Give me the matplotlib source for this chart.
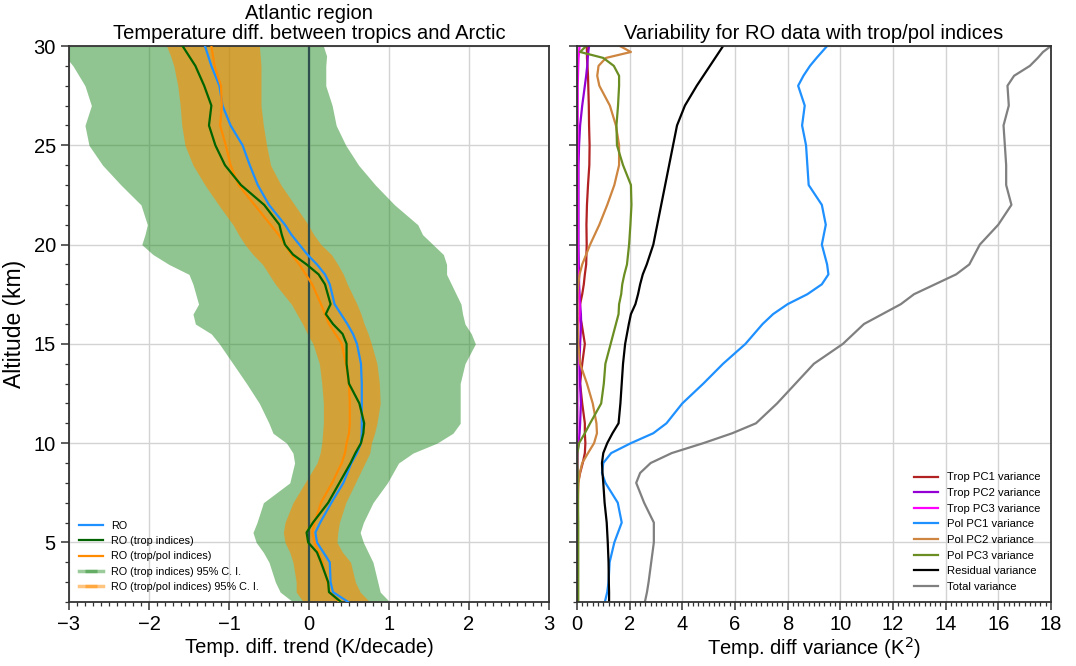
import numpy as np
import matplotlib.pyplot as plt
from matplotlib.lines import Line2D
from matplotlib.ticker import MultipleLocator

plt.rcParams['font.family'] = ['Liberation Sans', 'DejaVu Sans']

# ---- left panel: temperature difference trends (K/decade) ----
alt = [30, 29.5, 29, 28, 27, 26, 25, 24, 23, 22, 21, 20.5, 20, 19.5, 19, 18.5, 18, 17,
       16.5, 16, 15.5, 15, 14, 13, 12, 11, 10.5, 10, 9.5, 9, 8, 7, 6, 5.5, 5, 4.5, 4, 3, 2.5, 2]

ro = [-1.3, -1.26, -1.22, -1.12, -1.08, -0.98, -0.83, -0.74, -0.64, -0.5, -0.3, -0.22, -0.12,
      -0.02, 0.1, 0.2, 0.26, 0.32, 0.4, 0.48, 0.55, 0.6, 0.65, 0.66, 0.66, 0.66, 0.66, 0.65,
      0.6, 0.53, 0.43, 0.28, 0.14, 0.08, 0.1, 0.18, 0.26, 0.27, 0.3, 0.49]
ro_trop = [-1.58, -1.5, -1.42, -1.31, -1.22, -1.25, -1.17, -1.05, -0.85, -0.56, -0.37, -0.34, -0.3,
           -0.2, -0.03, 0.12, 0.2, 0.27, 0.21, 0.3, 0.42, 0.47, 0.47, 0.5, 0.63, 0.69, 0.68, 0.65,
           0.58, 0.52, 0.38, 0.24, 0.05, -0.03, -0.01, 0.1, 0.15, 0.24, 0.25, 0.4]
ro_troppol = [-1.22, -1.2, -1.18, -1.1, -1.09, -1.11, -1.04, -0.98, -0.88, -0.68, -0.48, -0.38, -0.3,
              -0.22, -0.12, -0.04, 0.04, 0.15, 0.2, 0.25, 0.33, 0.41, 0.46, 0.5, 0.51, 0.51, 0.5, 0.47,
              0.45, 0.41, 0.29, 0.15, 0.07, 0.04, 0.07, 0.12, 0.17, 0.23, 0.26, 0.38]

ci_trop_lo = [-3.1, -3.05, -2.95, -2.8, -2.72, -2.8, -2.75, -2.58, -2.35, -2.1, -2.02, -2.05, -2.09,
              -1.95, -1.75, -1.5, -1.45, -1.38, -1.45, -1.42, -1.22, -1.12, -0.95, -0.78, -0.62, -0.5,
              -0.45, -0.28, -0.2, -0.18, -0.24, -0.57, -0.65, -0.7, -0.66, -0.57, -0.5, -0.42, -0.36, -0.2]
ci_trop_hi = [0.18, 0.22, 0.21, 0.21, 0.29, 0.34, 0.46, 0.62, 0.83, 1.07, 1.36, 1.42, 1.55,
              1.68, 1.72, 1.72, 1.78, 1.9, 1.92, 1.95, 2.03, 2.08, 1.95, 1.89, 1.89, 1.89,
              1.8, 1.6, 1.3, 1.12, 0.98, 0.8, 0.68, 0.64, 0.68, 0.74, 0.8, 0.86, 0.89, 1.01]
ci_troppol_lo = [-1.78, -1.73, -1.69, -1.64, -1.61, -1.59, -1.55, -1.45, -1.3, -1.13, -0.95, -0.88, -0.8,
                 -0.7, -0.58, -0.5, -0.42, -0.22, -0.15, -0.08, -0.02, 0.05, 0.13, 0.16, 0.18, 0.18,
                 0.17, 0.16, 0.14, 0.1, -0.05, -0.2, -0.3, -0.32, -0.3, -0.24, -0.2, -0.16, -0.16, -0.07]
ci_troppol_hi = [-0.62, -0.61, -0.6, -0.6, -0.6, -0.57, -0.53, -0.48, -0.35, -0.18, -0.01, 0.06, 0.15,
                 0.28, 0.36, 0.43, 0.48, 0.6, 0.65, 0.69, 0.74, 0.78, 0.85, 0.88, 0.89, 0.85,
                 0.82, 0.78, 0.76, 0.7, 0.58, 0.46, 0.38, 0.36, 0.35, 0.42, 0.52, 0.58, 0.64, 0.76]

# ---- right panel: variance (K^2) ----
alt_var = [30, 29.7, 29.4, 29, 28.5, 28, 27, 26, 25, 24, 23, 22, 21, 20, 19, 18.5, 18, 17.5, 17,
           16.5, 16, 15, 14, 13, 12, 11, 10.5, 10, 9.5, 9, 8.5, 8, 7, 6, 5, 4, 3, 2.5, 2]

trop_pc1 = [0.37, 0.38, 0.38, 0.4, 0.42, 0.43, 0.45, 0.46, 0.48, 0.47, 0.42, 0.38, 0.36, 0.37, 0.35,
            0.3, 0.26, 0.2, 0.12, 0.1, 0.18, 0.3, 0.2, 0.12, 0.2, 0.3, 0.3, 0.32, 0.3, 0.22, 0.12,
            0.04, 0.03, 0.03, 0.03, 0.03, 0.03, 0.03, 0.03]
trop_pc2 = [0.46, 0.43, 0.41, 0.39, 0.35, 0.3, 0.2, 0.12, 0.08, 0.06, 0.06, 0.06, 0.06, 0.06, 0.07,
            0.08, 0.08, 0.1, 0.12, 0.15, 0.16, 0.12, 0.1, 0.12, 0.15, 0.12, 0.1, 0.06, 0.02, 0.01,
            0.01, 0.01, 0.01, 0.01, 0.01, 0.01, 0.01, 0.01, 0.01]
trop_pc3 = [0.1, 0.08, 0.06, 0.05, 0.04, 0.03, 0.03, 0.03, 0.03, 0.03, 0.03, 0.03, 0.03, 0.03, 0.03,
            0.04, 0.05, 0.07, 0.1, 0.1, 0.06, 0.03, 0.02, 0.02, 0.02, 0.02, 0.02, 0.02, 0.02, 0.02,
            0.02, 0.02, 0.02, 0.02, 0.02, 0.02, 0.02, 0.02, 0.02]
pol_pc1 = [9.5, 9.3, 9.1, 8.85, 8.6, 8.4, 8.65, 8.55, 8.7, 8.75, 8.8, 9.3, 9.45, 9.3, 9.5, 9.55, 9.3,
           8.75, 8.0, 7.45, 7.05, 6.4, 5.55, 4.8, 4.0, 3.4, 2.9, 2.05, 1.3, 1.0, 0.95, 1.08, 1.55,
           1.7, 1.42, 1.24, 1.2, 1.15, 1.06]
pol_pc2 = [1.63, 2.05, 1.1, 0.82, 0.77, 0.85, 1.25, 1.48, 1.6, 1.6, 1.42, 1.15, 0.85, 0.5, 0.2, 0.1,
           0.05, 0.02, 0.02, 0.02, 0.03, 0.05, 0.12, 0.38, 0.6, 0.74, 0.76, 0.65, 0.42, 0.2, 0.11,
           0.06, 0.04, 0.03, 0.03, 0.03, 0.03, 0.03, 0.03]
pol_pc3 = [0.35, 0.12, 1.0, 1.4, 1.6, 1.6, 1.56, 1.5, 1.52, 1.75, 2.05, 2.07, 2.03, 1.98, 1.9, 1.8,
           1.72, 1.68, 1.6, 1.58, 1.48, 1.28, 1.08, 1.02, 0.92, 0.5, 0.3, 0.08, 0.02, 0.02, 0.03,
           0.03, 0.04, 0.05, 0.05, 0.05, 0.05, 0.05, 0.05]
residual = [5.55, 5.4, 5.25, 5.05, 4.8, 4.55, 4.1, 3.8, 3.65, 3.5, 3.35, 3.2, 3.05, 2.9, 2.65, 2.5,
            2.4, 2.32, 2.22, 2.05, 1.97, 1.83, 1.75, 1.7, 1.65, 1.58, 1.35, 1.15, 1.0, 0.95, 0.97,
            1.0, 1.05, 1.13, 1.17, 1.2, 1.21, 1.22, 1.22]
total = [18.0, 17.7, 17.5, 17.2, 16.6, 16.35, 16.4, 16.2, 16.25, 16.3, 16.3, 16.5, 16.0, 15.3, 14.9,
         14.4, 13.6, 12.8, 12.3, 11.6, 10.9, 10.1, 9.0, 8.3, 7.6, 6.8, 5.9, 4.8, 3.6, 2.8, 2.4, 2.25,
         2.55, 2.92, 2.92, 2.82, 2.72, 2.66, 2.58]

var_series = [
    (trop_pc1, 'firebrick', 'Trop PC1 variance'),
    (trop_pc2, 'darkviolet', 'Trop PC2 variance'),
    (trop_pc3, 'magenta', 'Trop PC3 variance'),
    (pol_pc1, 'dodgerblue', 'Pol PC1 variance'),
    (pol_pc2, 'peru', 'Pol PC2 variance'),
    (pol_pc3, 'olivedrab', 'Pol PC3 variance'),
    (residual, 'black', 'Residual variance'),
    (total, 'gray', 'Total variance'),
]

fig = plt.figure(figsize=(10.76, 6.66), dpi=100)
ax1 = fig.add_axes([0.0641, 0.0961, 0.4461, 0.8348])
ax2 = fig.add_axes([0.5362, 0.0961, 0.4405, 0.8348], sharey=ax1)

# left panel
ax1.fill_betweenx(alt, ci_trop_lo, ci_trop_hi, color='forestgreen', alpha=0.5, lw=0, zorder=1)
ax1.fill_betweenx(alt, ci_troppol_lo, ci_troppol_hi, color='darkorange', alpha=0.6, lw=0, zorder=1.1)
ax1.axvline(0, color='darkslategray', lw=1.6, zorder=2)
ax1.plot(ro, alt, color='dodgerblue', lw=1.6, zorder=3)
ax1.plot(ro_trop, alt, color='darkgreen', lw=1.6, zorder=3.2)
ax1.plot(ro_troppol, alt, color='darkorange', lw=1.6, zorder=3.1)

handles = [
    Line2D([], [], color='dodgerblue', lw=1.6),
    Line2D([], [], color='darkgreen', lw=1.6),
    Line2D([], [], color='darkorange', lw=1.6),
    Line2D([], [], color='forestgreen', lw=2.5, alpha=0.45, marker='_', ms=9, mew=2.5),
    Line2D([], [], color='darkorange', lw=2.5, alpha=0.5, marker='_', ms=9, mew=2.5),
]
labels = ['RO', 'RO (trop indices)', 'RO (trop/pol indices)',
          'RO (trop indices) 95% C. I.', 'RO (trop/pol indices) 95% C. I.']
ax1.legend(handles, labels, loc='lower left', frameon=False, fontsize=7.8, numpoints=1,
           handlelength=2.2, labelspacing=0.5, borderaxespad=0.5)

ax1.set_xlim(-3, 3)
ax1.set_ylim(2, 30)
ax1.xaxis.set_major_locator(MultipleLocator(1))
ax1.xaxis.set_minor_locator(MultipleLocator(0.1))
ax1.set_xlabel('Temp. diff. trend (K/decade)', fontsize=14.5, labelpad=3)
ax1.set_ylabel('Altitude (km)', fontsize=16.5, labelpad=5)
ax1.set_title('Atlantic region\nTemperature diff. between tropics and Arctic', fontsize=14.5, pad=5,
              linespacing=1.05)

# right panel
for vals, col, lab in var_series:
    ax2.plot(vals, alt_var, color=col, lw=1.6, label=lab)
ax2.legend(loc='lower right', frameon=False, fontsize=8.1, handlelength=2.2,
           labelspacing=0.5, borderaxespad=0.5)
ax2.set_xlim(0, 18)
ax2.xaxis.set_major_locator(MultipleLocator(2))
ax2.xaxis.set_minor_locator(MultipleLocator(0.2))
ax2.set_xlabel('Temp. diff variance (K$^2$)', fontsize=14.5, labelpad=1)
ax2.set_title('Variability for RO data with trop/pol indices', fontsize=14.5, pad=5)
ax2.tick_params(axis='y', labelleft=False)

for ax in (ax1, ax2):
    ax.yaxis.set_major_locator(MultipleLocator(5))
    ax.yaxis.set_minor_locator(MultipleLocator(1))
    ax.grid(True, which='major', color='#d3d3d3', lw=1)
    ax.set_axisbelow(True)
    ax.tick_params(which='major', direction='out', length=6, width=1.1, labelsize=14.5, color='#333333')
    ax.tick_params(which='minor', direction='out', length=3, width=0.9, color='#333333')
    for s in ax.spines.values():
        s.set_color('#333333')
        s.set_linewidth(1.3)

fig.savefig('out.png', dpi=100)
